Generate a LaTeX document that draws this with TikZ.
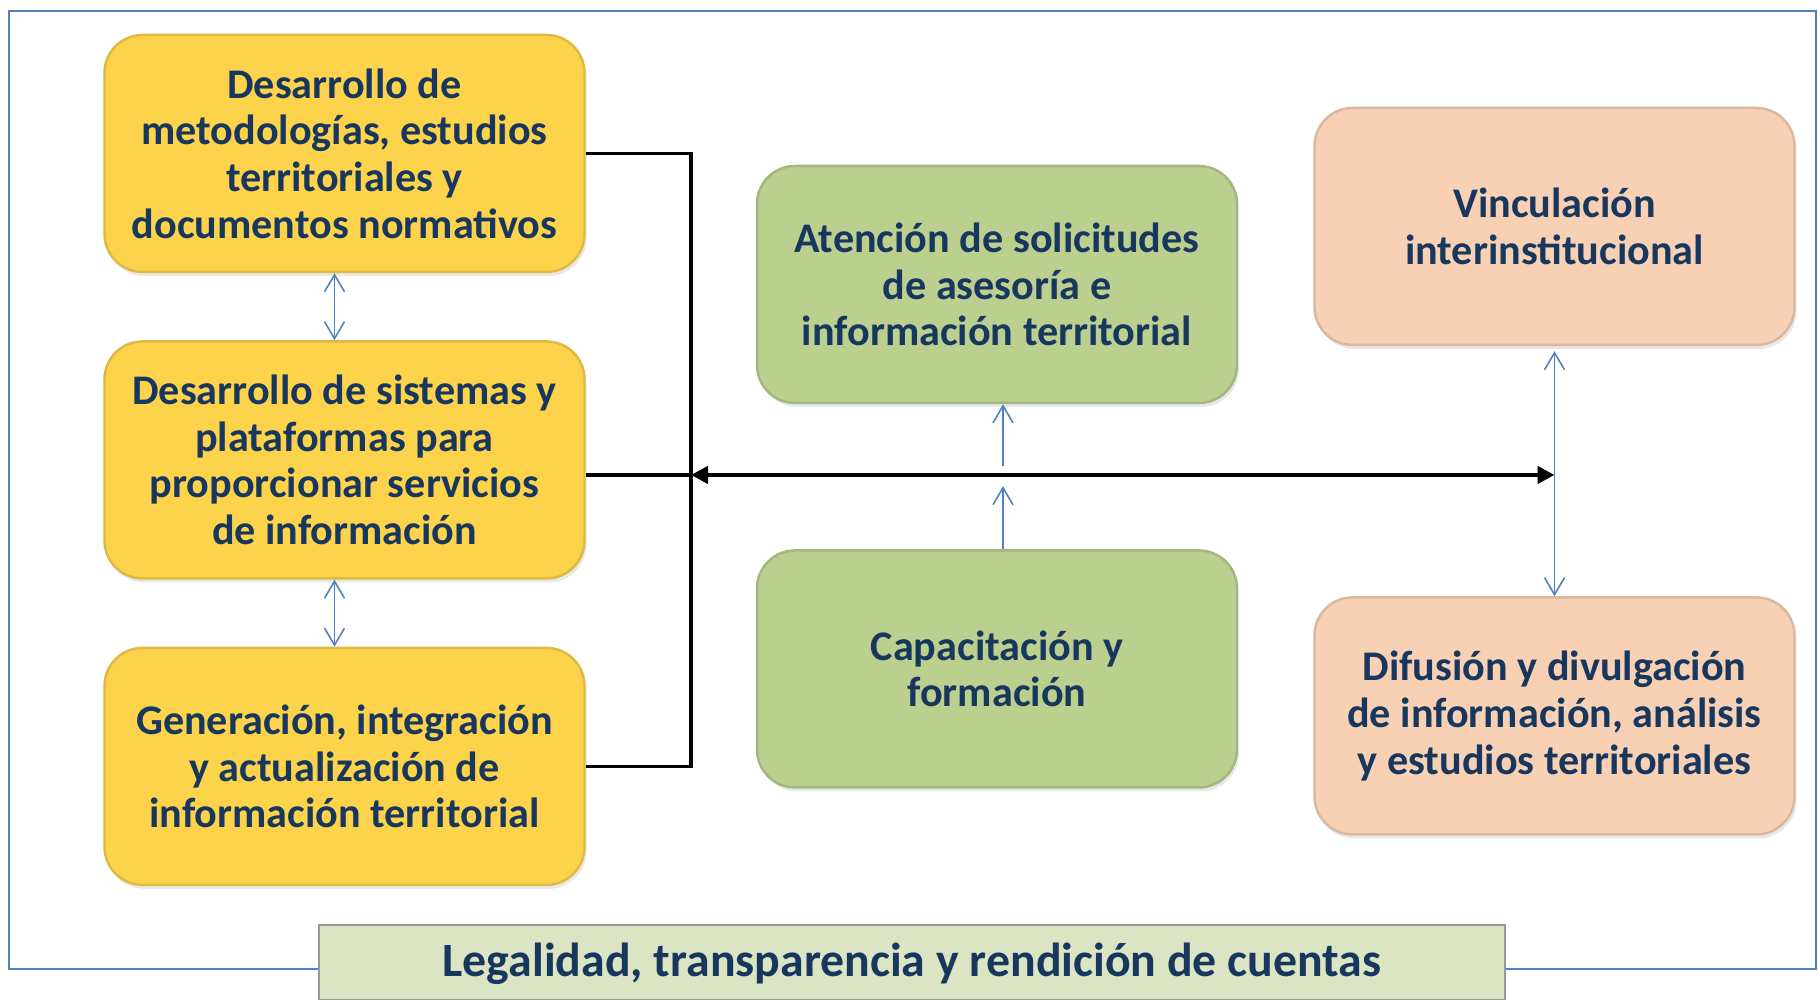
\documentclass[tikz,border=0pt]{standalone}
\usepackage{fontspec}
\setmainfont{Carlito}
\usetikzlibrary{positioning,arrows.meta,shadows}

\definecolor{textobox}{HTML}{17375E}
\definecolor{amarillo}{HTML}{FDD34B}
\definecolor{verde}{HTML}{BBCF8F}
\definecolor{durazno}{HTML}{F8D1B4}
\definecolor{barra}{HTML}{DBE5C4}
\definecolor{azul}{HTML}{4F81BD}

\tikzset{
  caja/.style={rounded corners=0.38cm, minimum width=4.8cm, minimum height=2.37cm,
    align=center, inner sep=2pt, text=textobox, line width=0.7pt,
    font=\fontsize{12}{13.3}\selectfont\bfseries,
    drop shadow={opacity=0.18, shadow xshift=0.2mm, shadow yshift=-0.4mm}},
  cajaam/.style={caja, fill=amarillo, draw=amarillo!88!black},
  cajave/.style={caja, fill=verde, draw=verde!88!black},
  cajadu/.style={caja, fill=durazno, draw=durazno!88!black},
  pie/.style={fill=barra, draw=black!40, line width=0.6pt, minimum width=11.86cm,
    minimum height=0.75cm, text=textobox, font=\fontsize{13.6}{16}\selectfont\bfseries},
  conn/.style={black, line width=0.9pt},
  flecha/.style={black, line width=1.2pt,
    {Triangle[length=1.7mm,width=1.7mm]}-{Triangle[length=1.7mm,width=1.7mm]}},
  enlace/.style={azul, line width=0.45pt,
    {Straight Barb[length=1.7mm,width=2mm]}-{Straight Barb[length=1.7mm,width=2mm]}},
  sube/.style={azul, line width=0.45pt, -{Straight Barb[length=1.7mm,width=2mm]}},
}

\begin{document}
\begin{tikzpicture}
  \useasboundingbox (0,0) rectangle (18.18,10);
  % Frame
  \draw[azul, line width=0.6pt] (0.09,0.31) rectangle (18.16,9.89);
  % Define nodes
  \node[cajaam] (met) at (3.445,8.465) {Desarrollo de\\metodologías, estudios\\territoriales y\\documentos normativos};
  \node[cajaam, below=0.67cm of met] (sis) {Desarrollo de sistemas y\\plataformas para\\proporcionar servicios\\de información};
  \node[cajaam, below=0.67cm of sis] (gen) {Generación, integración\\y actualización de\\información territorial};
  \node[cajave] (ate) at (9.97,7.155) {Atención de solicitudes\\de asesoría e\\información territorial};
  \node[cajave, below=1.45cm of ate] (cap) {Capacitación y\\formación};
  \node[cajadu] (vin) at (15.545,7.735) {Vinculación\\interinstitucional};
  \node[cajadu, below=2.5cm of vin] (dif) {Difusión y divulgación\\de información, análisis\\y estudios territoriales};
  \node[pie, text depth=0.05cm] (leg) at (9.12,0.375) {Legalidad, transparencia y rendición de cuentas};
  % Coordinates
  \coordinate (bus) at (6.91,5.25);
  \coordinate (fin) at (vin.south |- bus);
  \coordinate[xshift=0.6mm, below=0.62cm of ate.south] (ate1);
  \coordinate[xshift=0.6mm, above=0.63cm of cap.north] (cap1);
  % Connect nodes
  \draw[conn] (met.east) -| (bus |- gen.east) -- (gen.east);
  \draw[conn] (sis.east |- bus) -- (bus);
  \draw[flecha] (bus) -- (fin);
  \draw[enlace] ([xshift=-1mm]met.south) -- ([xshift=-1mm]sis.north);
  \draw[enlace] ([xshift=-1mm]sis.south) -- ([xshift=-1mm]gen.north);
  \draw[enlace, shorten <=0.5mm] (vin.south) -- (dif.north);
  \draw[sube] (ate1) -- ([xshift=0.6mm]ate.south);
  \draw[sube] ([xshift=0.6mm]cap.north) -- (cap1);
\end{tikzpicture}
\end{document}
